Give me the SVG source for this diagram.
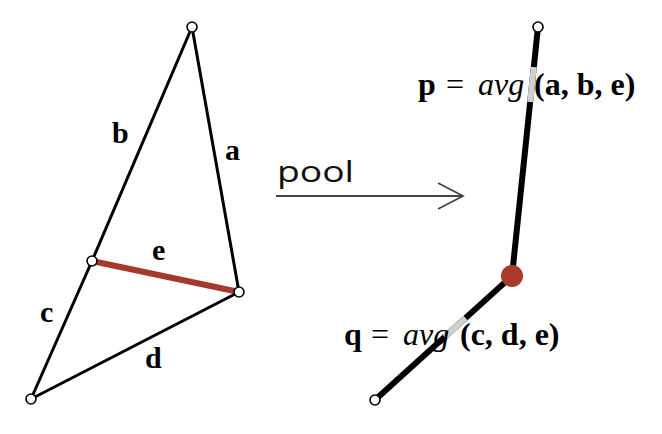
<svg xmlns="http://www.w3.org/2000/svg" width="662" height="434" viewBox="0 0 662 434">
<style>
.edge{stroke:#000;stroke-width:3;fill:none;stroke-linecap:round}
.thick{stroke:#000;stroke-width:6;fill:none}
.fade{stroke:#cfcfcf;stroke-width:6;fill:none}
.v{fill:#fff;stroke:#000;stroke-width:1.6}
.lbl{font-family:"Liberation Serif",serif;font-weight:bold;font-size:30px;fill:#000}
.f{font-family:"Liberation Serif",serif;font-size:32px;fill:#000}
.b{font-weight:bold}
.i{font-style:italic}
</style>
<rect width="662" height="434" fill="#fff"/>
<g id="connectors">
<line class="edge" x1="192" y1="27" x2="239" y2="292"/>
<line class="edge" x1="192" y1="27" x2="92" y2="261"/>
<line class="edge" x1="92" y1="261" x2="31" y2="399"/>
<line class="edge" x1="31" y1="399" x2="239" y2="292"/>
<line x1="92" y1="261" x2="239" y2="292" stroke="#a33a2b" stroke-width="6"/>
<line class="thick" x1="538" y1="27" x2="512" y2="276"/>
<line class="thick" x1="512" y1="276" x2="375" y2="400"/>
<line class="fade" x1="533.8" y1="67" x2="530.2" y2="102"/>
<line class="fade" x1="465.6" y1="318" x2="444.6" y2="337"/>
<line x1="276" y1="196" x2="462" y2="196" stroke="#444" stroke-width="1.8"/>
<polyline points="438,183 463,196 438,209" fill="none" stroke="#444" stroke-width="1.8"/>
</g>
<g id="labels">
<text class="lbl" x="112" y="143">b</text>
<text class="lbl" x="225" y="160">a</text>
<text class="lbl" x="152" y="260">e</text>
<text class="lbl" x="40" y="322">c</text>
<text class="lbl" x="145" y="368">d</text>
<text x="277" y="182" font-family="Open Sans, sans-serif" font-weight="400" font-size="29" fill="#111" textLength="77" lengthAdjust="spacingAndGlyphs">pool</text>
</g>
<g id="formulas">
<text class="f" y="95"><tspan class="b" x="418">p</tspan><tspan x="446">=</tspan><tspan class="i" x="478">avg</tspan><tspan class="b" x="534">(a, b, e)</tspan></text>
<text class="f" y="345"><tspan class="b" x="344">q</tspan><tspan x="371">=</tspan><tspan class="i" x="403">avg</tspan><tspan class="b" x="460">(c, d, e)</tspan></text>
</g>
<g id="n-top"><circle class="v" cx="192" cy="27" r="5"/></g>
<g id="n-left"><circle class="v" cx="92" cy="261" r="5"/></g>
<g id="n-right"><circle class="v" cx="239" cy="292" r="5"/></g>
<g id="n-bottom"><circle class="v" cx="31" cy="399" r="5"/></g>
<g id="n-p"><circle class="v" cx="538" cy="27" r="5"/></g>
<g id="n-pool"><circle cx="512" cy="276" r="11" fill="#a83a2c"/></g>
<g id="n-q"><circle class="v" cx="375" cy="400" r="5"/></g>
</svg>
